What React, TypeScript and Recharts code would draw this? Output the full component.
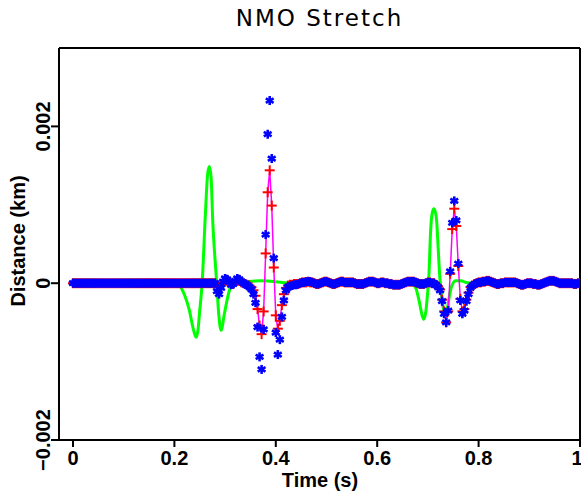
import React from 'react'
import { ComposedChart, Line, Scatter, XAxis, YAxis, ReferenceLine, Label } from 'recharts'

// sample interval of the traced signals (s)
const DT = 0.004

// blue * samples (km), one every DT from t = 0
const BLUE_V = [
  0, 0, 0, 0, 0, 0, 0, 0, 0, 0,
  0, 0, 0, 0, 0, 0, 0, 0, 0, 0,
  0, 0, 0, 0, 0, 0, 0, 0, 0, 0,
  0, 0, 0, 0, 0, 0, 0, 0, 0, 0,
  0, 0, 0, 0, 0, 0, 0, 0, 0, 0,
  0, 0, 0, 0, 0, 0, 0, 0, 0, 0,
  0, 0, 0, 0, 0, 0, 0, 0, 0, 0,
  0, -0.0001, -0.00014, -0.00006, 0.00002, 0.00006, 0.00005, 0.00002, -0.00002, -0.00001,
  0.00003, 0.00006, 0.00005, 0.00002, 0, -0.00001, -0.00003, -0.00005, -0.00008, -0.00014,
  -0.00025, -0.00056, -0.00094, -0.0011, -0.00059, 0.00062, 0.0019, 0.00233, 0.00159, 0.00032,
  -0.00063, -0.00091, -0.00072, -0.00043, -0.00022, -0.00009, -0.00005, -0.00004, -0.00003, -0.00002,
  -0.00002, -0.00001, 0, 0.00001, 0.00001, 0.00002, 0.00002, 0.00002, 0.00001, 0,
  -0.00001, -0.00001, 0, 0.00001, 0.00002, 0.00002, 0.00001, 0, -0.00001, -0.00001,
  0, 0.00001, 0.00002, 0.00002, 0.00001, 0.00001, 0.00001, 0.00001, 0.00001, 0,
  -0.00001, -0.00001, -0.00001, -0.00001, 0, 0.00001, 0.00002, 0.00002, 0.00002, 0.00001,
  0, 0, 0.00001, 0.00001, 0, 0, -0.00001, -0.00001, -0.00002, -0.00002,
  -0.00002, -0.00002, -0.00001, 0, 0.00001, 0.00002, 0.00002, 0.00002, 0.00002, 0.00001,
  0, -0.00001, -0.00001, -0.00001, 0, 0.00001, 0.00001, 0, 0, -0.00002,
  -0.00005, -0.00009, -0.00023, -0.00039, -0.0005, -0.00035, 0.00015, 0.00077, 0.00105, 0.0008,
  0.00025, -0.00022, -0.00039, -0.00035, -0.00023, -0.00014, -0.00006, -0.00003, -0.00001, 0,
  0.00001, 0.00001, 0.00002, 0.00002, 0.00003, 0.00003, 0.00002, 0.00001, 0, -0.00001,
  -0.00001, 0, 0, 0.00001, 0.00001, 0.00001, 0.00001, 0.00001, 0.00001, 0,
  -0.00001, -0.00002, -0.00002, -0.00001, 0, 0, 0, -0.00001, -0.00001, -0.00002,
  -0.00002, -0.00001, 0, 0.00001, 0.00002, 0.00003, 0.00003, 0.00003, 0.00002, 0.00001,
  0, 0, 0, 0, 0, 0, 0, -0.00001, -0.00001, 0,
  0,
]

// red + samples joined by the magenta line (km), same times as blue
const RED_V = [
  0, 0, 0, 0, 0, 0, 0, 0, 0, 0,
  0, 0, 0, 0, 0, 0, 0, 0, 0, 0,
  0, 0, 0, 0, 0, 0, 0, 0, 0, 0,
  0, 0, 0, 0, 0, 0, 0, 0, 0, 0,
  0, 0, 0, 0, 0, 0, 0, 0, 0, 0,
  0, 0, 0, 0, 0, 0, 0, 0, 0, 0,
  0, 0, 0, 0, 0, 0, 0, 0, 0, 0,
  0, -0.00003, -0.00005, -0.00003, 0.00001, 0.00003, 0.00003, 0.00001, -0.00001, -0.00001,
  0.00002, 0.00003, 0.00003, 0.00001, 0, -0.00001, -0.00002, -0.00003, -0.00005, -0.00009,
  -0.00016, -0.00033, -0.00054, -0.00065, -0.00036, 0.00038, 0.00116, 0.00144, 0.00099, 0.0002,
  -0.00041, -0.00058, -0.00048, -0.00028, -0.00014, -0.00006, -0.00003, -0.00002, -0.00002, -0.00001,
  -0.00001, -0.00001, 0, 0.00001, 0.00001, 0.00001, 0.00002, 0.00001, 0.00001, 0,
  -0.00001, -0.00001, 0, 0.00001, 0.00002, 0.00002, 0.00001, 0, -0.00001, -0.00001,
  0, 0.00001, 0.00002, 0.00002, 0.00001, 0.00001, 0.00001, 0.00001, 0.00001, 0,
  -0.00001, -0.00001, -0.00001, -0.00001, 0, 0.00001, 0.00002, 0.00002, 0.00002, 0.00001,
  0, 0, 0.00001, 0.00001, 0, 0, -0.00001, -0.00001, -0.00002, -0.00002,
  -0.00002, -0.00002, -0.00001, 0, 0.00001, 0.00002, 0.00002, 0.00002, 0.00002, 0.00001,
  0, -0.00001, -0.00001, -0.00001, 0, 0.00001, 0.00001, 0, 0, -0.00002,
  -0.00004, -0.00008, -0.00021, -0.00036, -0.0005, -0.00036, 0.00012, 0.00069, 0.00095, 0.00073,
  0.00022, -0.0002, -0.00036, -0.00033, -0.00021, -0.00012, -0.00005, -0.00003, -0.00001, 0,
  0.00001, 0.00001, 0.00002, 0.00002, 0.00003, 0.00003, 0.00002, 0.00001, 0, -0.00001,
  -0.00001, 0, 0, 0.00001, 0.00001, 0.00001, 0.00001, 0.00001, 0.00001, 0,
  -0.00001, -0.00002, -0.00002, -0.00001, 0, 0, 0, -0.00001, -0.00001, -0.00002,
  -0.00002, -0.00001, 0, 0.00001, 0.00002, 0.00003, 0.00003, 0.00003, 0.00002, 0.00001,
  0, 0, 0, 0, 0, 0, 0, -0.00001, -0.00001, 0,
  0,
]

// green trace (input wavelets)
const GREEN_T = [
  0, 0.2, 0.21, 0.22, 0.2297, 0.236, 0.2396, 0.2429, 0.2465, 0.2494,
  0.2547, 0.2612, 0.2657, 0.2691, 0.2724, 0.2756, 0.2803, 0.2835, 0.2874, 0.2921,
  0.2986, 0.3051, 0.3118, 0.32, 0.34, 0.37, 0.4, 0.42, 0.44, 0.66,
  0.67, 0.676, 0.6825, 0.689, 0.6923, 0.696, 0.699, 0.7021, 0.7054, 0.7087,
  0.712, 0.7166, 0.7205, 0.7234, 0.7273, 0.7317, 0.735, 0.739, 0.743, 0.748,
  0.755, 0.765, 0.775, 0.79, 1,
]
const GREEN_V = [
  0, 0, -0.00003, -0.00015, -0.00035, -0.00055, -0.00064, -0.00069, -0.0006, -0.00039,
  0, 0.00089, 0.0014, 0.00149, 0.00135, 0.0008, 0.00029, 0, -0.00039, -0.0006,
  -0.00039, -0.00018, -0.00003, 0.00001, 0.00002, 0.00003, 0.00002, 0.000005, 0, 0,
  -0.00002, -0.00006, -0.00022, -0.00042, -0.00046, -0.00036, -0.00016, 0.00012, 0.00067, 0.0009,
  0.00095, 0.00084, 0.00042, 0.00008, -0.00018, -0.00035, -0.00038, -0.0003, -0.00014, -0.00002,
  0.00003, 0.00003, 0.00001, 0, 0,
]

const X_TICKS = [0, 0.2, 0.4, 0.6, 0.8, 1]
const X_TICK_LABELS = ['0', '0.2', '0.4', '0.6', '0.8', '1']
const Y_TICKS = [-0.002, 0, 0.002]
const Y_TICK_LABELS = ['\u22120.002', '0', '0.002']

const blueData = BLUE_V.map((v, i) => ({ t: i * DT, v }))
const redData = RED_V.map((v, i) => ({ t: i * DT, v }))
const greenData = GREEN_T.map((t, i) => ({ t, v: GREEN_V[i] }))

const FONT = '"Liberation Sans", Arial, sans-serif'

const XTick = ({ x, y, payload }: any) => (
  <text x={x} y={y} dy="0.71em" textAnchor="middle" fontFamily={FONT} fontWeight="bold" fontSize={20} fill="#000">
    {X_TICK_LABELS[X_TICKS.indexOf(payload.value)]}
  </text>
)

const YTick = ({ x, y, payload }: any) => (
  <text x={x} y={y} transform={`rotate(-90 ${x} ${y})`} textAnchor="middle" fontFamily={FONT} fontWeight="bold" fontSize={20} fill="#000">
    {Y_TICK_LABELS[Y_TICKS.indexOf(payload.value)]}
  </text>
)

const Asterisk = ({ cx, cy }: any) => (
  <g stroke="#0000ff" strokeWidth={2.6}>
    <line x1={cx} y1={cy - 4.5} x2={cx} y2={cy + 4.5} />
    <line x1={cx - 3.9} y1={cy - 2.25} x2={cx + 3.9} y2={cy + 2.25} />
    <line x1={cx - 3.9} y1={cy + 2.25} x2={cx + 3.9} y2={cy - 2.25} />
  </g>
)

const Plus = ({ cx, cy }: any) => (
  <g stroke="#ff0000" strokeWidth={2}>
    <line x1={cx - 5} y1={cy} x2={cx + 5} y2={cy} />
    <line x1={cx} y1={cy - 5} x2={cx} y2={cy + 5} />
  </g>
)

export default function App() {
  return (
    <div style={{ position: 'absolute', left: 0, top: 0, width: 581, height: 492, background: '#fff' }}>
      <div style={{ position: 'absolute', left: 59, top: 7, width: 521, textAlign: 'center', fontFamily: '"DejaVu Sans", sans-serif', fontSize: 23, lineHeight: '23px', letterSpacing: 2, color: '#000' }}>
        NMO Stretch
      </div>
      <ComposedChart width={581} height={492} margin={{ top: 48, right: 1, bottom: 0, left: 0 }}>
        <XAxis
          dataKey="t"
          type="number"
          domain={[-0.0276, 1]}
          allowDataOverflow
          ticks={X_TICKS}
          tick={<XTick />}
          tickSize={7}
          tickMargin={4}
          height={52}
          axisLine={{ stroke: '#000', strokeWidth: 2 }}
          tickLine={{ stroke: '#000', strokeWidth: 2 }}
        >
          <Label content={() => (
            <text x={320} y={487} textAnchor="middle" fontFamily={FONT} fontWeight="bold" fontSize={20} fill="#000">Time (s)</text>
          )} />
        </XAxis>
        <YAxis
          dataKey="v"
          type="number"
          domain={[-0.002, 0.003]}
          allowDataOverflow
          ticks={Y_TICKS}
          tick={<YTick />}
          tickSize={8}
          tickMargin={1}
          width={59}
          axisLine={{ stroke: '#000', strokeWidth: 2 }}
          tickLine={{ stroke: '#000', strokeWidth: 2 }}
        >
          <Label content={() => (
            <text x={25} y={241} transform="rotate(-90 25 241)" textAnchor="middle" fontFamily={FONT} fontWeight="bold" fontSize={20} fill="#000">Distance (km)</text>
          )} />
        </YAxis>
        <ReferenceLine y={0.003} stroke="#000" strokeWidth={2} />
        <ReferenceLine x={1} stroke="#000" strokeWidth={2} />
        <Line data={greenData} dataKey="v" type="monotone" stroke="#00ff00" strokeWidth={3} dot={false} isAnimationActive={false} />
        <Line data={redData} dataKey="v" type="linear" stroke="#ff00ff" strokeWidth={1.5} dot={false} isAnimationActive={false} />
        <Scatter data={redData} dataKey="v" shape={<Plus />} isAnimationActive={false} />
        <Scatter data={blueData} dataKey="v" shape={<Asterisk />} isAnimationActive={false} />
      </ComposedChart>
    </div>
  )
}
